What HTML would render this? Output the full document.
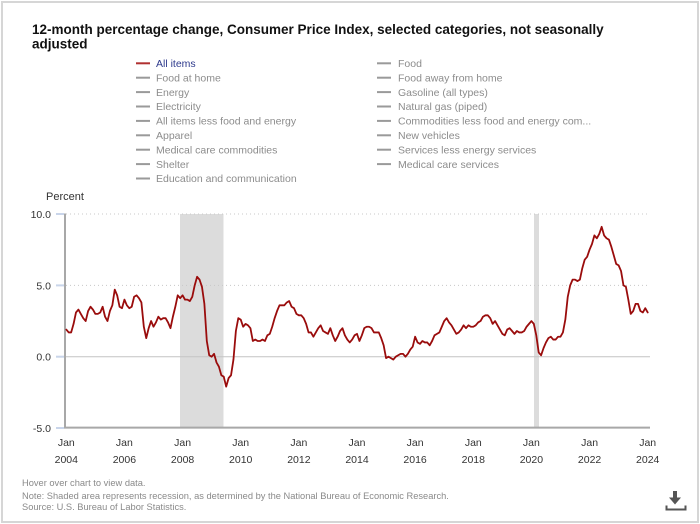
<!DOCTYPE html>
<html>
<head>
<meta charset="utf-8">
<style>
  html,body{margin:0;padding:0;background:#fff;}
  body{width:700px;height:524px;position:relative;overflow:hidden;font-family:"Liberation Sans",Arial,sans-serif;}
  .frame{position:absolute;left:1px;top:1px;width:698px;height:522px;border:2px solid #d6d6d6;box-sizing:border-box;}
  svg{position:absolute;left:0;top:0;}
</style>
</head>
<body>
<div class="frame"></div>
<svg width="700" height="524" viewBox="0 0 700 524" xmlns="http://www.w3.org/2000/svg" font-family="Liberation Sans, Arial, sans-serif">
  <!-- Title -->
  <text x="32" y="34" font-size="13.5" font-weight="bold" fill="#111">12-month percentage change, Consumer Price Index, selected categories, not seasonally</text>
  <text x="32" y="48.5" font-size="13.5" font-weight="bold" fill="#111">adjusted</text>

  <!-- Legend column 1 -->
  <g font-size="10.5" fill="#8c8c8c">
    <line x1="136" y1="63.3" x2="150" y2="63.3" stroke="#b03030" stroke-width="2"/>
    <text x="156" y="67" fill="#2e3a8c">All items</text>
    <line x1="136" y1="77.7" x2="150" y2="77.7" stroke="#9a9a9a" stroke-width="2"/>
    <text x="156" y="81.4">Food at home</text>
    <line x1="136" y1="92.1" x2="150" y2="92.1" stroke="#9a9a9a" stroke-width="2"/>
    <text x="156" y="95.8">Energy</text>
    <line x1="136" y1="106.5" x2="150" y2="106.5" stroke="#9a9a9a" stroke-width="2"/>
    <text x="156" y="110.2">Electricity</text>
    <line x1="136" y1="120.9" x2="150" y2="120.9" stroke="#9a9a9a" stroke-width="2"/>
    <text x="156" y="124.6">All items less food and energy</text>
    <line x1="136" y1="135.3" x2="150" y2="135.3" stroke="#9a9a9a" stroke-width="2"/>
    <text x="156" y="139">Apparel</text>
    <line x1="136" y1="149.7" x2="150" y2="149.7" stroke="#9a9a9a" stroke-width="2"/>
    <text x="156" y="153.4">Medical care commodities</text>
    <line x1="136" y1="164.1" x2="150" y2="164.1" stroke="#9a9a9a" stroke-width="2"/>
    <text x="156" y="167.8">Shelter</text>
    <line x1="136" y1="178.5" x2="150" y2="178.5" stroke="#9a9a9a" stroke-width="2"/>
    <text x="156" y="182.2">Education and communication</text>

    <!-- Legend column 2 -->
    <line x1="377" y1="63.3" x2="391" y2="63.3" stroke="#9a9a9a" stroke-width="2"/>
    <text x="398" y="67">Food</text>
    <line x1="377" y1="77.7" x2="391" y2="77.7" stroke="#9a9a9a" stroke-width="2"/>
    <text x="398" y="81.4">Food away from home</text>
    <line x1="377" y1="92.1" x2="391" y2="92.1" stroke="#9a9a9a" stroke-width="2"/>
    <text x="398" y="95.8">Gasoline (all types)</text>
    <line x1="377" y1="106.5" x2="391" y2="106.5" stroke="#9a9a9a" stroke-width="2"/>
    <text x="398" y="110.2">Natural gas (piped)</text>
    <line x1="377" y1="120.9" x2="391" y2="120.9" stroke="#9a9a9a" stroke-width="2"/>
    <text x="398" y="124.6">Commodities less food and energy com...</text>
    <line x1="377" y1="135.3" x2="391" y2="135.3" stroke="#9a9a9a" stroke-width="2"/>
    <text x="398" y="139">New vehicles</text>
    <line x1="377" y1="149.7" x2="391" y2="149.7" stroke="#9a9a9a" stroke-width="2"/>
    <text x="398" y="153.4">Services less energy services</text>
    <line x1="377" y1="164.1" x2="391" y2="164.1" stroke="#9a9a9a" stroke-width="2"/>
    <text x="398" y="167.8">Medical care services</text>
  </g>

  <!-- Axis title -->
  <text x="46" y="200" font-size="11" fill="#333">Percent</text>

  <!-- Recession shading -->
  <rect x="180" y="214" width="43.5" height="213.5" fill="#dcdcdc"/>
  <rect x="534" y="214" width="5" height="213.5" fill="#dcdcdc"/>

  <!-- Gridlines -->
  <line x1="66" y1="214" x2="650" y2="214" stroke="#c8c8c8" stroke-width="1" stroke-dasharray="1,3"/>
  <line x1="66" y1="285.4" x2="650" y2="285.4" stroke="#c8c8c8" stroke-width="1" stroke-dasharray="1,3"/>
  <line x1="66" y1="356.7" x2="650" y2="356.7" stroke="#c4c4c4" stroke-width="1"/>
  <line x1="64" y1="427.6" x2="650" y2="427.6" stroke="#a8a8a8" stroke-width="2"/>
  <line x1="65" y1="213.5" x2="65" y2="428" stroke="#a8a8a8" stroke-width="2"/>

  <!-- Y ticks -->
  <g stroke="#c9d5ea" stroke-width="2">
    <line x1="56" y1="214" x2="64" y2="214"/>
    <line x1="56" y1="285.4" x2="64" y2="285.4"/>
    <line x1="56" y1="356.7" x2="64" y2="356.7"/>
    <line x1="56" y1="428" x2="64" y2="428"/>
  </g>

  <!-- Y labels -->
  <g font-size="10.5" fill="#333" text-anchor="end">
    <text x="51" y="218">10.0</text>
    <text x="51" y="289.4">5.0</text>
    <text x="51" y="360.7">0.0</text>
    <text x="51" y="432">-5.0</text>
  </g>

  <!-- X labels -->
  <g font-size="10.5" fill="#333" text-anchor="middle">
    <text x="66.3" y="446">Jan</text><text x="66.3" y="463">2004</text>
    <text x="124.4" y="446">Jan</text><text x="124.4" y="463">2006</text>
    <text x="182.6" y="446">Jan</text><text x="182.6" y="463">2008</text>
    <text x="240.7" y="446">Jan</text><text x="240.7" y="463">2010</text>
    <text x="298.9" y="446">Jan</text><text x="298.9" y="463">2012</text>
    <text x="357" y="446">Jan</text><text x="357" y="463">2014</text>
    <text x="415.1" y="446">Jan</text><text x="415.1" y="463">2016</text>
    <text x="473.3" y="446">Jan</text><text x="473.3" y="463">2018</text>
    <text x="531.4" y="446">Jan</text><text x="531.4" y="463">2020</text>
    <text x="589.6" y="446">Jan</text><text x="589.6" y="463">2022</text>
    <text x="647.7" y="446">Jan</text><text x="647.7" y="463">2024</text>
  </g>

  <!-- Series: All items -->
  <g transform="translate(66.3,356.7) scale(2.4225,-14.27)">
    <polyline fill="none" stroke="#9a0c0c" stroke-width="1.8" stroke-linejoin="round" stroke-linecap="round" vector-effect="non-scaling-stroke"
      points="0,1.9 1,1.7 2,1.7 3,2.3 4,3.1 5,3.3 6,3.0 7,2.7 8,2.5 9,3.2 10,3.5 11,3.3
      12,3.0 13,3.0 14,3.1 15,3.5 16,2.8 17,2.5 18,3.2 19,3.6 20,4.7 21,4.3 22,3.5 23,3.4
      24,4.0 25,3.6 26,3.4 27,3.5 28,4.2 29,4.3 30,4.1 31,3.8 32,2.1 33,1.3 34,2.0 35,2.5
      36,2.1 37,2.4 38,2.8 39,2.6 40,2.7 41,2.7 42,2.4 43,2.0 44,2.8 45,3.5 46,4.3 47,4.1
      48,4.3 49,4.0 50,4.0 51,3.9 52,4.2 53,5.0 54,5.6 55,5.4 56,4.9 57,3.7 58,1.1 59,0.1
      60,0.0 61,0.2 62,-0.4 63,-0.7 64,-1.3 65,-1.4 66,-2.1 67,-1.5 68,-1.3 69,-0.2 70,1.8 71,2.7
      72,2.6 73,2.1 74,2.3 75,2.2 76,2.0 77,1.1 78,1.2 79,1.1 80,1.1 81,1.2 82,1.1 83,1.5
      84,1.6 85,2.1 86,2.7 87,3.2 88,3.6 89,3.6 90,3.6 91,3.8 92,3.9 93,3.5 94,3.4 95,3.0
      96,2.9 97,2.9 98,2.7 99,2.3 100,1.7 101,1.7 102,1.4 103,1.7 104,2.0 105,2.2 106,1.8 107,1.7
      108,1.6 109,2.0 110,1.5 111,1.1 112,1.4 113,1.8 114,2.0 115,1.5 116,1.2 117,1.0 118,1.2 119,1.5
      120,1.6 121,1.1 122,1.5 123,2.0 124,2.1 125,2.1 126,2.0 127,1.7 128,1.7 129,1.7 130,1.3 131,0.8
      132,-0.1 133,0.0 134,-0.1 135,-0.2 136,0.0 137,0.1 138,0.2 139,0.2 140,0.0 141,0.2 142,0.5 143,0.7
      144,1.4 145,1.0 146,0.9 147,1.1 148,1.0 149,1.0 150,0.8 151,1.1 152,1.5 153,1.6 154,1.7 155,2.1
      156,2.5 157,2.7 158,2.4 159,2.2 160,1.9 161,1.6 162,1.7 163,1.9 164,2.2 165,2.0 166,2.2 167,2.1
      168,2.1 169,2.2 170,2.4 171,2.5 172,2.8 173,2.9 174,2.9 175,2.7 176,2.3 177,2.5 178,2.2 179,1.9
      180,1.6 181,1.5 182,1.9 183,2.0 184,1.8 185,1.6 186,1.8 187,1.7 188,1.7 189,1.8 190,2.1 191,2.3
      192,2.5 193,2.3 194,1.5 195,0.3 196,0.1 197,0.6 198,1.0 199,1.3 200,1.4 201,1.2 202,1.2 203,1.4
      204,1.4 205,1.7 206,2.6 207,4.2 208,5.0 209,5.4 210,5.4 211,5.3 212,5.4 213,6.2 214,6.8 215,7.0
      216,7.5 217,7.9 218,8.5 219,8.3 220,8.6 221,9.1 222,8.5 223,8.3 224,8.2 225,7.7 226,7.1 227,6.5
      228,6.4 229,6.0 230,5.0 231,4.9 232,4.0 233,3.0 234,3.2 235,3.7 236,3.7 237,3.2 238,3.1 239,3.4
      240,3.1"/>
  </g>

  <!-- Footer -->
  <g font-size="9.3" fill="#8a8a8a">
    <text x="22" y="486">Hover over chart to view data.</text>
    <text x="22" y="499">Note: Shaded area represents recession, as determined by the National Bureau of Economic Research.</text>
    <text x="22" y="510">Source: U.S. Bureau of Labor Statistics.</text>
  </g>

  <!-- Download icon -->
  <g fill="#555" stroke="none">
    <rect x="673" y="491" width="4" height="8"/>
    <polygon points="669,497.5 681,497.5 675,504.5"/>
  </g>
  <polyline points="666.5,505.5 666.5,509.5 685.5,509.5 685.5,505.5" fill="none" stroke="#555" stroke-width="2"/>
</svg>
</body>
</html>
